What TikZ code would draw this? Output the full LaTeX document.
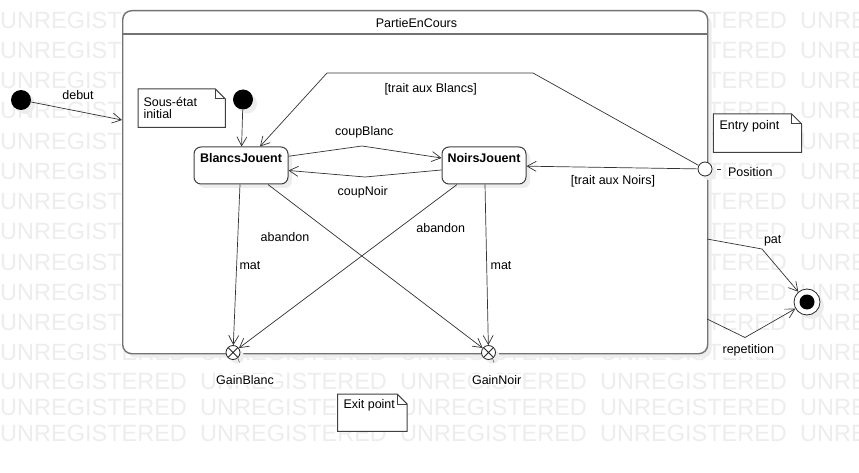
\documentclass[tikz,border=0pt]{standalone}
\usepackage{fontspec}
\setmainfont{Liberation Sans}
\usetikzlibrary{arrows.meta,positioning,calc,shadows}

\tikzset{
  trans/.style={draw=black!80, line width=0.7pt, -{Straight Barb[length=9pt,width=10pt]}},
  ombre/.style={drop shadow={shadow xshift=4pt,shadow yshift=-4pt,fill=black!7,opacity=1}},
  etat/.style={draw=black!75, line width=1pt, fill=white, rounded corners=7pt, ombre, minimum height=37pt, inner sep=0pt, text height=9pt, text depth=15pt, font=\fontsize{12.5}{14}\selectfont\bfseries},
  cadre/.style={draw=black!55, line width=1.4pt, fill=white, rounded corners=9pt, ombre, inner sep=0pt, anchor=north west},
  lbl/.style={fill=white, inner sep=1pt, anchor=base, font=\fontsize{12.5}{14}\selectfont},
  initial/.style={circle, fill=black, minimum size=20pt, inner sep=0pt, ombre},
  entree/.style={circle, draw=black!85, fill=white, line width=0.8pt, minimum size=14pt, inner sep=0pt, ombre},
  sortie/.style={entree, path picture={\draw[black!85,line width=0.8pt] (path picture bounding box.north west) -- (path picture bounding box.south east) (path picture bounding box.north east) -- (path picture bounding box.south west);}},
  fin/.style={circle, draw=black!85, fill=white, line width=0.8pt, minimum size=26pt, inner sep=0pt, ombre, path picture={\fill[black] (path picture bounding box.center) circle (7.5pt);}},
  note/.style={fill=white, inner sep=0pt, anchor=north west},
  notetrait/.style={draw=black!75, line width=1pt},
  notetxt/.style={inner sep=0pt, anchor=north west, align=left, font=\fontsize{12.5}{11.7}\selectfont},
  filigrane/.style={anchor=base west, inner sep=0pt, text=black!7, font=\fontsize{23.5}{28}\selectfont},
}

% contour d'une note avec coin plie
\newcommand{\coinnote}[1]{%
  \draw[notetrait] (#1.north west) -- ([xshift=-10pt]#1.north east) -- ([yshift=-10pt]#1.north east) -- (#1.south east) -- (#1.south west) -- cycle;
  \draw[notetrait] ([xshift=-10pt]#1.north east) -- ([xshift=-10pt,yshift=-10pt]#1.north east) -- ([yshift=-10pt]#1.north east);}

\begin{document}
\begin{tikzpicture}[x=1pt,y=-1pt]
\useasboundingbox (0,0) rectangle (859,473);
\fill[white] (0,0) rectangle (859,473);
% filigrane
\foreach \b in {29,59,89,119,149.5,180,210,240,270,300,330,360,389,415,441}
  \foreach \a in {0,200,400,600,800}
    \node[filigrane] at (\a,\b) {UNREGISTERED};

% etat composite
\node[cadre, minimum width=585pt, minimum height=343pt] (partie) at (122,10) {};
\draw[black!55, line width=1.4pt] (partie.west |- 0,34) -- (partie.east |- 0,34);
\node[lbl] (titre) at (416.5,27.3) {PartieEnCours};

% pseudo-etats
\node[initial] (init0) at (21,100) {};
\node[initial] (init1) at (243,99.5) {};
\coordinate (debutFin) at (122,120);

% etats
\node[etat, minimum width=94pt] (bj) at (241,165.5) {BlancsJouent};
\node[etat, minimum width=84pt] (nj) at (484,165.5) {NoirsJouent};

% points d'entree / sortie, etat final
\node[entree] (ep) at (705,169) {};
\node[sortie] (gb) at (233,352.5) {};
\node[sortie] (gn) at (488.5,352.5) {};
\node[fin] (fin) at (807,302) {};

% notes
\node[note, minimum width=87pt, minimum height=38pt] (noteInit) at (138,89) {};
\coinnote{noteInit}
\node[notetxt] (txtInit) at (143.3,96.7) {\rule{0pt}{10pt}Sous-état\\initial};
\node[note, minimum width=88pt, minimum height=38pt] (noteEntree) at (713.3,114) {};
\coinnote{noteEntree}
\node[notetxt] (txtEntree) at (719.3,119) {\rule{0pt}{10pt}Entry point};
\node[note, minimum width=69pt, minimum height=37pt] (noteSortie) at (337.7,394) {};
\coinnote{noteSortie}
\node[notetxt] (txtSortie) at (343.3,398.5) {\rule{0pt}{10pt}Exit point};

% transitions
\draw[trans] (init0) -- (debutFin);
\node[lbl] (lDebut) at (78,99.3) {debut};
\draw[trans] (init1) -- (bj);
\coordinate (cb) at (362,146);
\draw[trans] (bj.11) -- (cb) -- (nj.170);
\node[lbl] (lCoupBlanc) at (364.3,135.7) {coupBlanc};
\coordinate (cn) at (365,177);
\draw[trans] (nj.186) -- (cn) -- (bj.354);
\node[lbl] (lCoupNoir) at (362.7,195.7) {coupNoir};
\coordinate (tb1) at (533,73);
\coordinate (tb2) at (327,73);
\draw[trans] (ep) -- (tb1) -- (tb2) -- ([xshift=19pt]bj.north);
\node[lbl] (lTraitB) at (430.7,93) {[trait aux Blancs]};
\draw[trans] (ep) -- (nj);
\node[lbl] (lTraitN) at (613,185) {[trait aux Noirs]};

\draw[trans] ([xshift=-1pt]bj.south) -- (gb);
\draw[trans] ([xshift=27pt]bj.south) -- (gn);
\draw[trans] ([xshift=-27pt]nj.south) -- (gb);
\draw[trans] ([xshift=1pt]nj.south) -- (gn);
\node[lbl] (lMatB) at (250,269.5) {mat};
\node[lbl] (lAbandonB) at (285,241) {abandon};
\node[lbl] (lAbandonN) at (440.7,232.7) {abandon};
\node[lbl] (lMatN) at (501,269.5) {mat};

% vers l'etat final
\coordinate (patDeb) at (707,239);
\coordinate (pat1) at (762,249);
\draw[trans] (patDeb) -- (pat1) -- (fin);
\node[lbl] (lPat) at (772.7,243.3) {pat};
\coordinate (repDeb) at (707,319);
\coordinate (rep1) at (745,337.5);
\draw[trans] (repDeb) -- (rep1) -- (fin);
\node[lbl] (lRep) at (748.3,353.5) {repetition};

% noms des points
\node[lbl] (lPos) at (750.3,176.7) {Position};
\draw[black!80] ([xshift=5pt]ep.east) -- ++(3.5,0);
\node[lbl] (lGB) at (245,384.3) {GainBlanc};
\draw[black!80] ([xshift=5pt,yshift=-6pt]gb.center) -- ++(1.5,4);
\node[lbl] (lGN) at (496.7,384.3) {GainNoir};
\draw[black!80] ([xshift=4pt,yshift=-6pt]gn.center) -- ++(1.5,4);
\end{tikzpicture}
\end{document}
